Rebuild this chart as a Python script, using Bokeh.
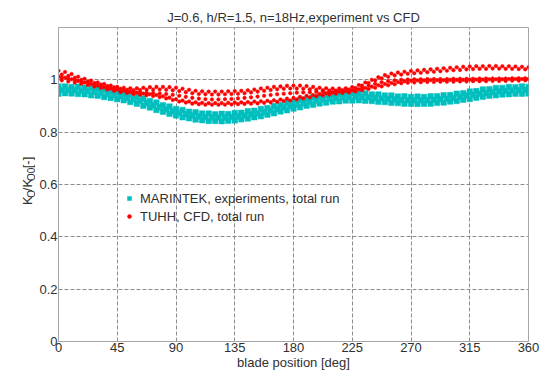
import numpy as np
from bokeh.plotting import figure
from bokeh.layouts import row
from bokeh.models import FixedTicker, NumeralTickFormatter, Legend, LegendItem
from bokeh.core.properties import value
from bokeh.embed import file_html
from bokeh.resources import INLINE

# ---------------- data ----------------
angles = np.arange(0, 361, 5)          # 0..360 deg, 73 points
angles_half = np.arange(2.5, 360, 5)   # 2.5..357.5 deg, 72 points

cyan_upper = [0.975, 0.975, 0.973, 0.974, 0.970, 0.969, 0.964, 0.962, 0.956, 0.954,
              0.947, 0.943, 0.934, 0.929, 0.919, 0.913, 0.903, 0.898, 0.889, 0.885,
              0.878, 0.876, 0.871, 0.871, 0.868, 0.870, 0.869, 0.873, 0.874, 0.880,
              0.882, 0.889, 0.892, 0.900, 0.904, 0.912, 0.915, 0.923, 0.926, 0.933,
              0.935, 0.941, 0.942, 0.946, 0.946, 0.949, 0.947, 0.948, 0.944, 0.944,
              0.940, 0.940, 0.936, 0.937, 0.934, 0.936, 0.934, 0.937, 0.937, 0.941,
              0.942, 0.947, 0.949, 0.955, 0.957, 0.963, 0.964, 0.969, 0.969, 0.973,
              0.972, 0.975, 0.973]
cyan_lower = [0.947, 0.949, 0.948, 0.946, 0.945, 0.941, 0.939, 0.934, 0.931, 0.926,
              0.922, 0.915, 0.909, 0.901, 0.894, 0.885, 0.878, 0.870, 0.864, 0.857,
              0.853, 0.848, 0.846, 0.843, 0.843, 0.842, 0.844, 0.845, 0.849, 0.852,
              0.857, 0.861, 0.867, 0.872, 0.879, 0.884, 0.890, 0.895, 0.901, 0.905,
              0.910, 0.913, 0.917, 0.918, 0.921, 0.921, 0.922, 0.920, 0.919, 0.916,
              0.915, 0.912, 0.911, 0.909, 0.909, 0.908, 0.909, 0.909, 0.912, 0.913,
              0.917, 0.919, 0.924, 0.927, 0.932, 0.935, 0.939, 0.941, 0.944, 0.945,
              0.947, 0.947, 0.948]
cyan_mid = [0.961, 0.961, 0.960, 0.959, 0.957, 0.954, 0.950, 0.946, 0.942, 0.937,
            0.932, 0.926, 0.919, 0.911, 0.903, 0.895, 0.887, 0.880, 0.874, 0.868,
            0.864, 0.860, 0.858, 0.856, 0.856, 0.856, 0.858, 0.860, 0.864, 0.868,
            0.872, 0.877, 0.883, 0.889, 0.895, 0.900, 0.906, 0.911, 0.916, 0.921,
            0.925, 0.928, 0.931, 0.933, 0.934, 0.935, 0.934, 0.933, 0.931, 0.929,
            0.927, 0.925, 0.923, 0.922, 0.922, 0.922, 0.922, 0.924, 0.926, 0.928,
            0.931, 0.935, 0.939, 0.943, 0.947, 0.950, 0.953, 0.956, 0.958, 0.959,
            0.960, 0.961]

red_top = [1.035, 1.030, 1.022, 1.012, 1.004, 0.997, 0.990, 0.984, 0.978, 0.973,
           0.970, 0.968, 0.968, 0.970, 0.972, 0.973, 0.973, 0.972, 0.970, 0.966,
           0.962, 0.958, 0.956, 0.955, 0.955, 0.955, 0.956, 0.957, 0.958, 0.960,
           0.963, 0.967, 0.970, 0.973, 0.975, 0.977, 0.978, 0.978, 0.976, 0.973,
           0.970, 0.968, 0.967, 0.967, 0.968, 0.972, 0.980, 0.990, 1.000, 1.010,
           1.018, 1.024, 1.028, 1.031, 1.034, 1.036, 1.038, 1.040, 1.042, 1.044,
           1.046, 1.048, 1.050, 1.051, 1.052, 1.052, 1.053, 1.053, 1.052, 1.052,
           1.051, 1.050, 1.048]
red_top2 = [1.020, 1.015, 1.008, 1.000, 0.994, 0.988, 0.982, 0.976, 0.971, 0.966,
            0.962, 0.960, 0.961, 0.962, 0.963, 0.963, 0.962, 0.960, 0.957, 0.953,
            0.949, 0.946, 0.945, 0.944, 0.944, 0.945, 0.946, 0.947, 0.949, 0.952,
            0.955, 0.958, 0.961, 0.964, 0.966, 0.967, 0.967, 0.966, 0.964, 0.962,
            0.960, 0.959, 0.959, 0.960, 0.963, 0.969, 0.978, 0.988, 0.998, 1.006,
            1.012, 1.017, 1.020, 1.023, 1.025, 1.027, 1.029, 1.031, 1.033, 1.035,
            1.037, 1.038, 1.040, 1.041, 1.042, 1.042, 1.043, 1.043, 1.042, 1.042,
            1.041, 1.040]
red_mid = [1.008, 1.004, 0.999, 0.993, 0.988, 0.982, 0.976, 0.970, 0.965, 0.960,
           0.956, 0.953, 0.951, 0.950, 0.950, 0.948, 0.946, 0.943, 0.939, 0.935,
           0.931, 0.928, 0.926, 0.925, 0.925, 0.926, 0.927, 0.929, 0.931, 0.933,
           0.936, 0.939, 0.942, 0.945, 0.947, 0.949, 0.951, 0.952, 0.953, 0.954,
           0.955, 0.956, 0.957, 0.958, 0.960, 0.964, 0.970, 0.978, 0.985, 0.991,
           0.995, 0.998, 1.000, 1.001, 1.002, 1.002, 1.003, 1.003, 1.003, 1.003,
           1.004, 1.004, 1.004, 1.004, 1.005, 1.005, 1.005, 1.005, 1.005, 1.006,
           1.006, 1.006]
red_low2 = [1.012, 1.008, 1.002, 0.996, 0.990, 0.984, 0.978, 0.972, 0.967, 0.962,
            0.958, 0.954, 0.951, 0.948, 0.945, 0.942, 0.937, 0.932, 0.926, 0.921,
            0.917, 0.914, 0.912, 0.911, 0.911, 0.911, 0.912, 0.913, 0.914, 0.915,
            0.917, 0.918, 0.920, 0.922, 0.925, 0.928, 0.931, 0.935, 0.939, 0.942,
            0.946, 0.949, 0.952, 0.955, 0.957, 0.960, 0.964, 0.969, 0.974, 0.979,
            0.984, 0.988, 0.992, 0.995, 0.997, 0.998, 0.998, 0.999, 0.999, 0.999,
            1.000, 1.000, 1.000, 1.001, 1.001, 1.001, 1.002, 1.002, 1.002, 1.003,
            1.003, 1.003, 1.003]
red_low = [0.998, 0.994, 0.990, 0.985, 0.980, 0.974, 0.969, 0.963, 0.958, 0.953,
           0.950, 0.946, 0.943, 0.941, 0.938, 0.934, 0.929, 0.923, 0.917, 0.913,
           0.909, 0.907, 0.905, 0.905, 0.905, 0.905, 0.906, 0.907, 0.908, 0.909,
           0.910, 0.912, 0.914, 0.916, 0.919, 0.921, 0.925, 0.929, 0.933, 0.937,
           0.941, 0.944, 0.947, 0.950, 0.952, 0.955, 0.960, 0.965, 0.970, 0.975,
           0.979, 0.983, 0.987, 0.989, 0.990, 0.991, 0.992, 0.992, 0.993, 0.993,
           0.993, 0.994, 0.994, 0.995, 0.995, 0.995, 0.996, 0.996, 0.996, 0.997,
           0.997, 0.998]

x_ticks = [0, 45, 90, 135, 180, 225, 270, 315, 360]
y_ticks = [0, 0.2, 0.4, 0.6, 0.8, 1.0]

title_text = "J=0.6, h/R=1.5, n=18Hz,experiment vs CFD"
x_label = "blade position [deg]"
legend_exp = "MARINTEK, experiments, total run"
legend_cfd = "TUHH, CFD, total run"
# y label  K_Q / K_Q0 [-] : main-line parts and subscript parts
ylab_main = ["K", "/K", "[-]"]
ylab_sub = ["Q", "Q0"]

# ---------------- styling ----------------
FONT = "Liberation Sans"
TXT = "#303030"
GRID = "#8c8c8c"
FRAME = "#a6a6a6"
CYAN = "#00bfbf"
RED = "#ff0000"
LAB_W = 35   # width of the strip holding the y-axis label

p = figure(width=543 - LAB_W, height=377, output_backend="svg", toolbar_location=None,
           x_range=(0, 360), y_range=(0, 1.2),
           min_border_left=58 - LAB_W, min_border_right=15, min_border_top=27,
           min_border_bottom=36)
p.background_fill_color = "white"
p.border_fill_color = "white"
p.outline_line_color = FRAME
p.outline_line_width = 1

p.title.text = title_text
p.title.align = "center"
p.title.text_font = FONT
p.title.text_font_size = "13px"
p.title.text_font_style = "normal"
p.title.text_color = TXT
p.title.standoff = 6

# scatter data
c_renderers = []
for xs, ys in [(angles, cyan_upper), (angles_half, cyan_mid), (angles, cyan_lower)]:
    r = p.scatter(xs, ys, marker="square", size=5.5, fill_color=CYAN, line_color=CYAN,
                  line_width=0.5)
    c_renderers.append(r)
r_renderers = []
for xs, ys in [(angles_half, red_low), (angles, red_low2), (angles_half, red_mid),
               (angles_half, red_top2), (angles, red_top)]:
    r = p.scatter(xs, ys, marker="circle", size=3.6, fill_color=RED, line_color=RED,
                  line_width=0.5)
    r_renderers.append(r)

# axes
for ax in (p.xaxis[0], p.yaxis[0]):
    ax.axis_line_color = FRAME
    ax.major_tick_line_color = None
    ax.minor_tick_line_color = None
    ax.major_tick_out = 0
    ax.major_tick_in = 0
    ax.minor_tick_out = 0
    ax.minor_tick_in = 0
    ax.major_label_text_font = FONT
    ax.major_label_text_font_size = "13px"
    ax.major_label_text_color = TXT
p.xaxis.ticker = FixedTicker(ticks=x_ticks)
p.yaxis.ticker = FixedTicker(ticks=y_ticks)
p.yaxis.formatter = NumeralTickFormatter(format="0.[0]")
p.xaxis.major_label_standoff = 1
p.yaxis.major_label_standoff = 1
p.xaxis.axis_label = x_label
p.xaxis.axis_label_text_font = FONT
p.xaxis.axis_label_text_font_size = "13px"
p.xaxis.axis_label_text_font_style = "normal"
p.xaxis.axis_label_text_color = TXT
p.xaxis.axis_label_standoff = 0

# grid
p.xgrid.ticker = FixedTicker(ticks=x_ticks)
p.ygrid.ticker = FixedTicker(ticks=y_ticks)
for g in (p.xgrid[0], p.ygrid[0]):
    g.grid_line_color = GRID
    g.grid_line_dash = "4 2"
    g.grid_line_width = 1

# legend
legend = Legend(items=[LegendItem(label=legend_exp, renderers=[c_renderers[1]]),
                       LegendItem(label=legend_cfd, renderers=[r_renderers[0]])],
                location=(66, 116), orientation="vertical")
legend.background_fill_alpha = 0
legend.border_line_color = None
legend.padding = 0
legend.margin = 0
legend.spacing = 0
legend.glyph_width = 10
legend.glyph_height = 18
legend.label_height = 18
legend.label_standoff = 6
legend.label_text_font = FONT
legend.label_text_font_size = "13px"
legend.label_text_color = TXT
p.add_layout(legend)

# ---- narrow strip on the left carrying the rotated y-axis label ----
H = 377
lab = figure(width=LAB_W, height=H, output_backend="svg", toolbar_location=None,
             x_range=(0, LAB_W), y_range=(0, H), x_axis_type=None, y_axis_type=None,
             min_border=0, min_border_left=0, min_border_right=0,
             min_border_top=0, min_border_bottom=0)
lab.outline_line_color = None
lab.background_fill_color = "white"
lab.border_fill_color = "white"
lab.grid.visible = False
# positions in strip pixels (x: baseline, y: from bottom)
lab.text(x=[27, 27, 27], y=[H - 213, H - 196.5, H - 169], text=ylab_main,
         angle=np.pi / 2, text_font=value(FONT), text_font_size="13px",
         text_color=TXT, text_align="left", text_baseline="alphabetic")
lab.text(x=[30.5, 30.5], y=[H - 204.3, H - 184.2], text=ylab_sub,
         angle=np.pi / 2, text_font=value(FONT), text_font_size="10px",
         text_color=TXT, text_align="left", text_baseline="alphabetic")

layout = row(lab, p, spacing=0)
open("out.html", "w").write(file_html(layout, INLINE))
